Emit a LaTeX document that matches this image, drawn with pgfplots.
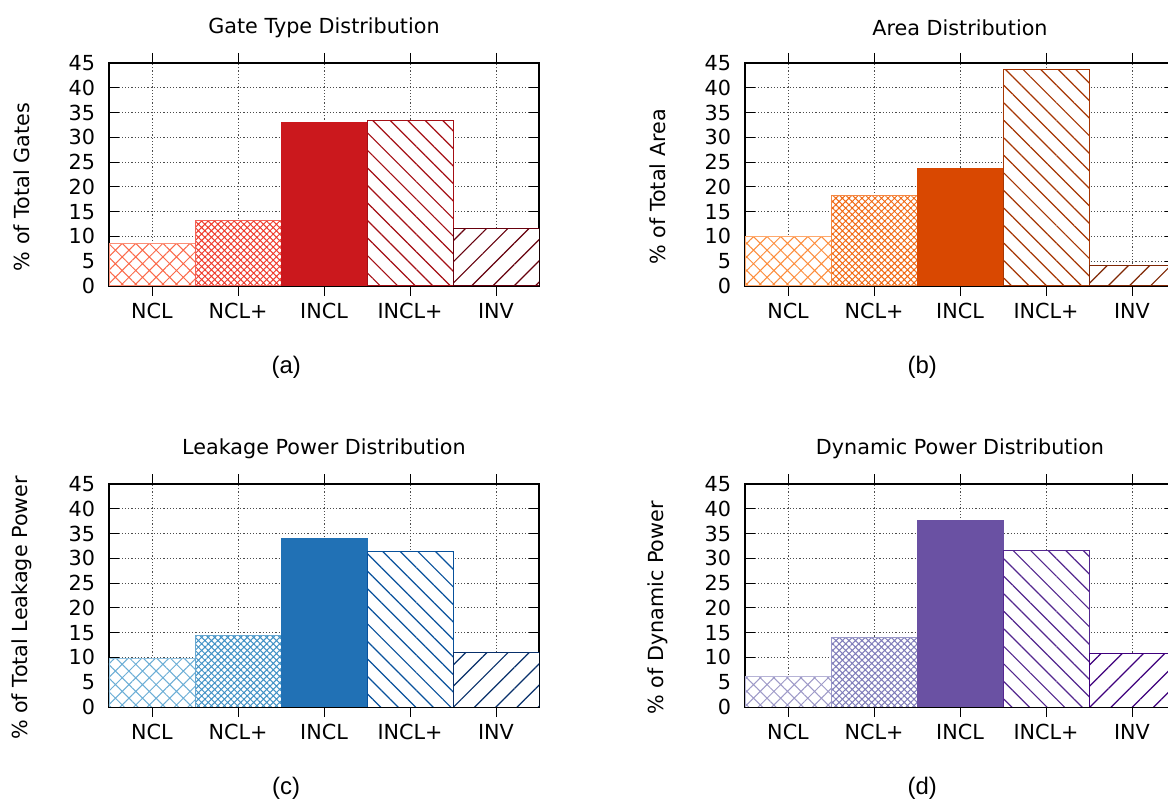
\documentclass[border=0pt]{standalone}
\usepackage{pgfplots}
\pgfplotsset{compat=1.18}
\usepackage{fontspec}
\setmainfont{DejaVu Sans}
\newfontfamily\capfont{Liberation Sans}
\usetikzlibrary{patterns.meta}

% reds
\definecolor{ra}{HTML}{FB6A4A}\definecolor{rb}{HTML}{EF3B2C}\definecolor{rc}{HTML}{CB181D}
\definecolor{rd}{HTML}{A50F15}\definecolor{re}{HTML}{67000D}
% oranges
\definecolor{oa}{HTML}{FD8D3C}\definecolor{ob}{HTML}{F16913}\definecolor{oc}{HTML}{D94801}
\definecolor{od}{HTML}{A63603}\definecolor{oe}{HTML}{7F2704}
% blues
\definecolor{ba}{HTML}{6BAED6}\definecolor{bb}{HTML}{4292C6}\definecolor{bc}{HTML}{2171B5}
\definecolor{bd}{HTML}{08519C}\definecolor{be}{HTML}{08306B}
% purples
\definecolor{pa}{HTML}{9E9AC8}\definecolor{pb}{HTML}{807DBA}\definecolor{pc}{HTML}{6A51A3}
\definecolor{pd}{HTML}{54278F}\definecolor{pe}{HTML}{3F007D}

\pgfplotsset{
  panel/.style={
    scale only axis, width=215bp, height=111.5bp, anchor=south west,
    clip mode=individual,
    xmin=-0.5, xmax=4.5, ymin=0, ymax=45,
    xtick={0,1,2,3,4}, xticklabels={NCL,NCL+,INCL,INCL+,INV},
    ytick={0,5,...,45},
    tick align=inside, major tick length=5bp,
    tick style={black, line width=0.5bp},
    axis line style={black, line width=0.75bp},
    grid=major, grid style={black!70, line width=0.5bp, dash pattern=on 0.6bp off 1bp},
    /pgf/number format/assume math mode=true,
    yticklabel style={xshift=-3.5bp},
    xticklabel style={yshift=0bp},
    every axis title shift=0pt,
    title style={at={(axis description cs:0.5,1.157)}, anchor=center},
    ylabel style={at={(axis description cs:-0.202,0.444)}, anchor=center, rotate=0},
    ybar,
  },
  ncl/.style={ybar, bar width=1, bar shift=0pt, draw=#1!75, line width=0.5bp, fill=white,
    postaction={pattern={Hatch[angle=45,distance=4.8bp,line width=0.5bp]}, pattern color=#1}},
  nclp/.style={ybar, bar width=1, bar shift=0pt, draw=#1!80, line width=0.5bp, fill=white,
    postaction={pattern={Hatch[angle=45,distance=2.3bp,line width=0.5bp]}, pattern color=#1}},
  incl/.style={ybar, bar width=1, bar shift=0pt, draw=#1, line width=0.5bp, fill=#1},
  inclp/.style={ybar, bar width=1, bar shift=0pt, draw=#1, line width=0.5bp, fill=white,
    postaction={pattern={Lines[angle=-45,distance=6.2bp,line width=0.6bp]}, pattern color=#1}},
  inv/.style={ybar, bar width=1, bar shift=0pt, draw=#1, line width=0.5bp, fill=white,
    postaction={pattern={Lines[angle=45,distance=7.5bp,line width=0.6bp]}, pattern color=#1}},
}
\tikzset{capnode/.style={font=\capfont\fontsize{12}{14}\selectfont, anchor=center}}

\begin{document}
\begin{tikzpicture}[font=\fontsize{10.4}{12}\selectfont]

% (a) gate type
\begin{axis}[panel, at={(54.5bp,257bp)}, title={Gate Type Distribution}, ylabel={\% of Total Gates}]
\addplot[ncl=ra]   coordinates {(0,8.6)};
\addplot[nclp=rb]  coordinates {(1,13.2)};
\addplot[incl=rc]  coordinates {(2,33.0)};
\addplot[inclp=rd] coordinates {(3,33.4)};
\addplot[inv=re]   coordinates {(4,11.7)};
\node[capnode] at (axis description cs:0.412,-0.365) {(a)};
\end{axis}

% (b) area
\begin{axis}[panel, at={(372.5bp,257bp)}, title={Area Distribution}, ylabel={\% of Total Area}]
\addplot[ncl=oa]   coordinates {(0,10.0)};
\addplot[nclp=ob]  coordinates {(1,18.2)};
\addplot[incl=oc]  coordinates {(2,23.7)};
\addplot[inclp=od] coordinates {(3,43.6)};
\addplot[inv=oe]   coordinates {(4,4.1)};
\node[capnode] at (axis description cs:0.412,-0.365) {(b)};
\end{axis}

% (c) leakage power
\begin{axis}[panel, at={(54.5bp,46.5bp)}, title={Leakage Power Distribution}, ylabel={\% of Total Leakage Power}]
\addplot[ncl=ba]   coordinates {(0,9.7)};
\addplot[nclp=bb]  coordinates {(1,14.5)};
\addplot[incl=bc]  coordinates {(2,34.1)};
\addplot[inclp=bd] coordinates {(3,31.3)};
\addplot[inv=be]   coordinates {(4,10.9)};
\node[capnode] at (axis description cs:0.412,-0.365) {(c)};
\end{axis}

% (d) dynamic power
\begin{axis}[panel, at={(372.5bp,46.5bp)}, title={Dynamic Power Distribution}, ylabel={\% of Dynamic Power}]
\addplot[ncl=pa]   coordinates {(0,6.1)};
\addplot[nclp=pb]  coordinates {(1,14.1)};
\addplot[incl=pc]  coordinates {(2,37.7)};
\addplot[inclp=pd] coordinates {(3,31.5)};
\addplot[inv=pe]   coordinates {(4,10.8)};
\node[capnode] at (axis description cs:0.412,-0.365) {(d)};
\end{axis}

\pgfresetboundingbox
\path[use as bounding box] (0,0) rectangle (584bp,400bp);
\end{tikzpicture}
\end{document}
